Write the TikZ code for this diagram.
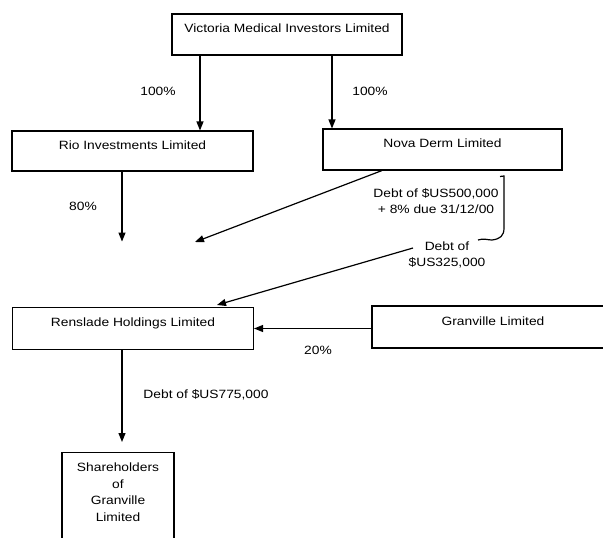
\documentclass[tikz,border=0pt]{standalone}
\usepackage{fontspec}
\setmainfont{Liberation Sans}[FakeStretch=1.15]
\usetikzlibrary{arrows.meta}
\tikzset{
  box/.style={draw, line width=1.1pt, inner sep=0pt, text height=9pt, text depth=13pt},
  plainbox/.style={draw, line width=1.1pt, inner sep=0pt},
  lbl/.style={inner sep=1pt, align=center},
  conn/.style={line width=1.2pt},
  arr/.style={conn, -{Triangle[length=9pt,width=7pt]}}
}
\begin{document}
\begin{tikzpicture}[x=1pt,y=-1pt,font=\fontsize{12}{16.5}\selectfont]
\clip (0,0) rectangle (603,538);
\fill[white] (0,0) rectangle (603,538);
% boxes
\node[box, minimum width=230pt, minimum height=41pt] (vic) at (287,34.5) {Victoria Medical Investors Limited};
\node[box, minimum width=241pt, minimum height=40pt] (rio) at (132.5,151) {Rio Investments Limited};
\node[box, minimum width=239pt, minimum height=41pt] (nova) at (442.5,149.5) {Nova Derm Limited};
\node[box, minimum width=241pt, minimum height=42pt] (ren) at (133,328.5) {Renslade Holdings Limited};
\node[box, minimum width=242pt, minimum height=42pt] (gran) at (493,327) {Granville Limited};
\node[plainbox, anchor=north, minimum width=112pt, minimum height=100pt] (share) at (118,452) {};
\node[lbl] (sharetext) at (118,492) {Shareholders\\of\\Granville\\Limited};
% labels
\node[lbl] (p1) at (158,91) {100\%};
\node[lbl] (p2) at (370,91) {100\%};
\node[lbl] (p3) at (83,206) {80\%};
\node[lbl] (p4) at (318,350) {20\%};
\node[lbl] (d1) at (436,201) {Debt of \$US500,000\\+ 8\% due 31/12/00};
\node[lbl] (d2) at (447,255) {Debt of\\\$US325,000};
\node[lbl] (d3) at (206,395) {Debt of \$US775,000};
% helper coordinates
\coordinate (xa) at (200,0);
\coordinate (xb) at (332,0);
\coordinate (xc) at (122,0);
\coordinate (xd) at (382,0);
\coordinate (t1) at (195,242);
\coordinate (s2) at (413,248);
\coordinate (t2) at (217,305);
\coordinate (t3) at (122,442);
\coordinate (b1) at (504,176);
\coordinate (b2) at (504,228);
\coordinate (b3) at (478,240);
% connectors
\draw[arr] (vic.south -| xa) -- (rio.north -| xa);
\draw[arr] (vic.south -| xb) -- (nova.north -| xb);
\draw[arr] (rio.south -| xc) -- ++(0,70);
\draw[arr] (nova.south -| xd) -- (t1);
\draw[arr] (s2) -- (t2);
\draw[arr] (gran.west |- ren.east) -- (ren.east);
\draw[arr] (ren.south -| xc) -- (t3);
\draw[conn] (500,176.5) -- (b1) -- (b2) .. controls (504,236) and (500,239) .. (492,240) .. controls (487,240) and (484,238) .. (b3);
\end{tikzpicture}
\end{document}
